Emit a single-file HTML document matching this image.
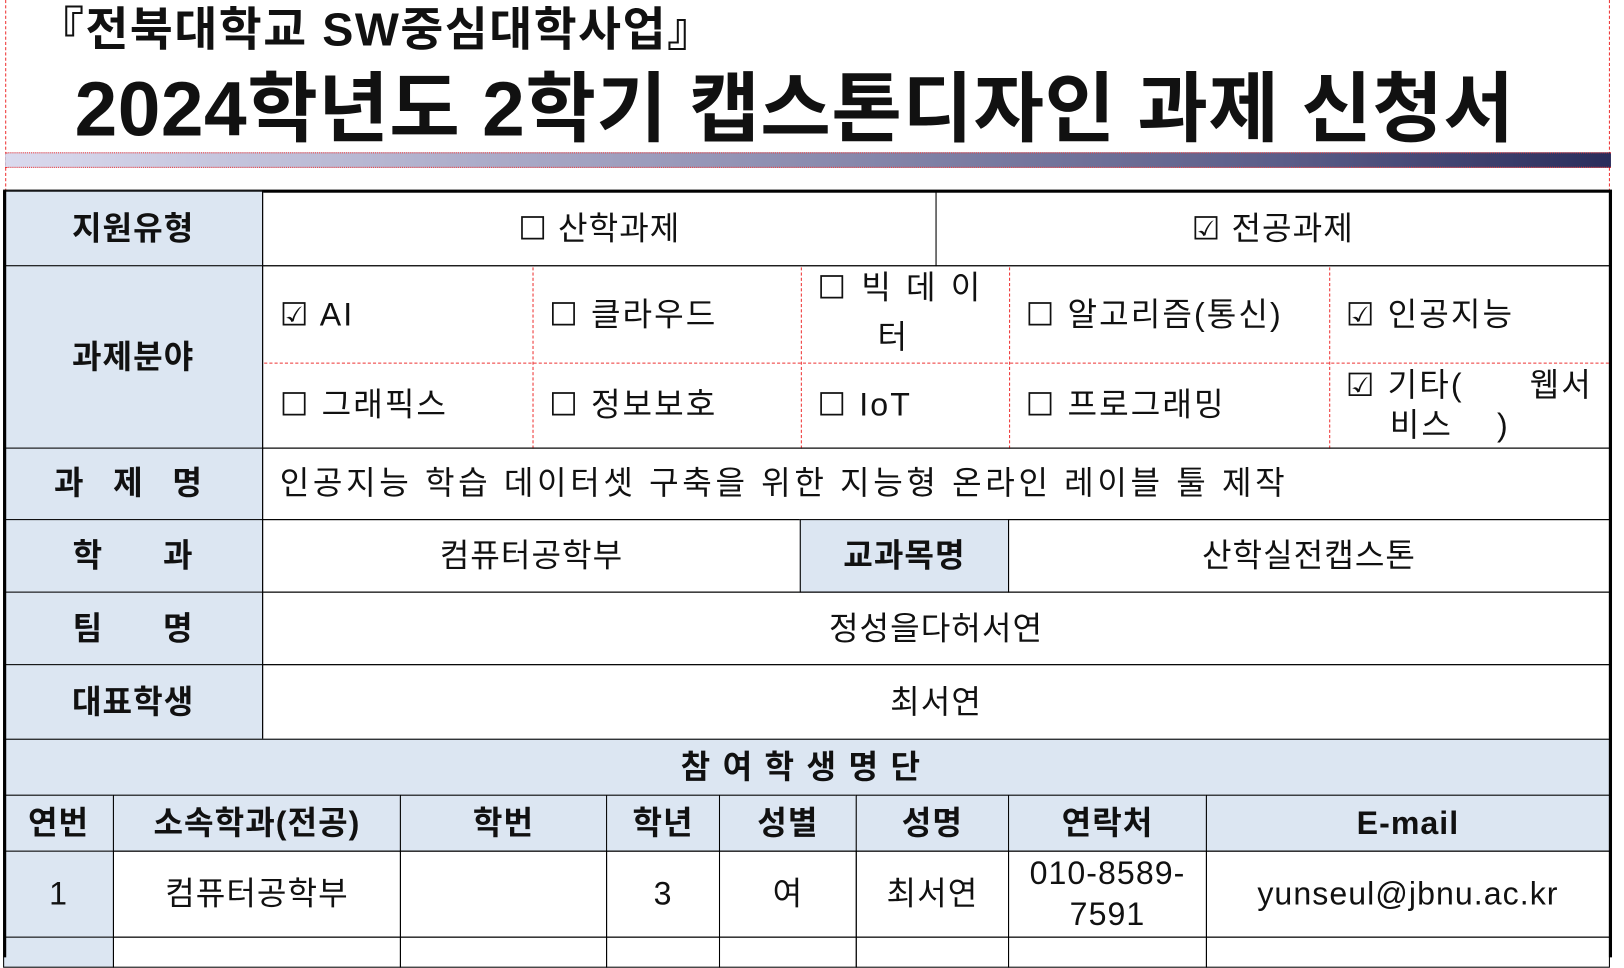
<!DOCTYPE html>
<html><head><meta charset="utf-8">
<style>
html,body{margin:0;padding:0;background:#fff;width:1624px;height:946px;overflow:hidden}
#root{position:absolute;left:0;top:0;width:1557px;height:913px;transform:scale(1.036,1.0361);transform-origin:0 0;font-family:"Liberation Sans","Noto Sans CJK KR",sans-serif;color:#111}
.a{position:absolute;box-sizing:border-box}
.c{position:absolute;box-sizing:border-box;border:1.5px solid #000;display:flex;align-items:center;justify-content:center;font-size:31px;line-height:1.2;margin:-1px 0 0 -1px;letter-spacing:1px}
.lb{background:#dce6f2;font-weight:bold}
.f{position:absolute;box-sizing:border-box;display:flex;align-items:center;font-size:31px;padding-left:16px;line-height:1.3;letter-spacing:2px}
.rv{position:absolute;border-left:1.5px dashed #e33;width:0}
</style></head><body>
<div id="root">
<div class="a" style="left:5px;top:0;height:185px;border-left:1.5px dashed #e33"></div>
<div class="a" style="left:1553px;top:0;height:185px;border-left:1.5px dashed #e33"></div>
<div class="a" style="left:36px;top:-8px;font-size:45px;font-weight:bold;white-space:nowrap;letter-spacing:1.5px">『전북대학교 SW중심대학사업』</div>
<div class="a" style="left:72px;top:69px;font-size:74px;font-weight:bold;white-space:nowrap;letter-spacing:0.5px;line-height:1">2024학년도 2학기 캡스톤디자인 과제 신청서</div>
<div class="a" style="left:5px;top:147px;width:1550px;height:15px;border-top:1.5px dotted #e33;border-bottom:1.5px dotted #e33;background:linear-gradient(90deg,#dadaee,#9c9cbc 40%,#5a5c88 80%,#2a2d5c)"></div>

<div class="a" style="left:3px;top:183px;width:1553px;height:3px;background:#000"></div>

<div class="c lb" style="left:4px;top:185px;width:251px;height:73px">지원유형</div>
<div class="c" style="left:254px;top:185px;width:651px;height:73px">☐ 산학과제</div>
<div class="c" style="left:904px;top:185px;width:651px;height:73px">☑ 전공과제</div>

<div class="c lb" style="left:4px;top:257px;width:251px;height:177px">과제분야</div>
<div class="c" style="left:254px;top:257px;width:1301px;height:177px"></div>
<div class="a" style="left:255px;top:350px;width:1298px;border-top:1.5px dashed #e33"></div>
<div class="rv" style="left:514px;top:258px;height:175px"></div>
<div class="rv" style="left:773px;top:258px;height:175px"></div>
<div class="rv" style="left:974px;top:258px;height:175px"></div>
<div class="rv" style="left:1283px;top:258px;height:175px"></div>
<div class="f" style="left:254px;top:258px;width:260px;height:92px">☑ AI</div>
<div class="f" style="left:514px;top:258px;width:259px;height:92px">☐ 클라우드</div>
<div class="f" style="left:773px;top:254px;width:201px;height:96px;align-items:flex-start;padding-top:0;line-height:1.55;letter-spacing:3px">☐ 빅 데 이<br>&nbsp;&nbsp;&nbsp;&nbsp;&nbsp;터</div>
<div class="f" style="left:974px;top:258px;width:309px;height:92px">☐ 알고리즘(통신)</div>
<div class="f" style="left:1283px;top:258px;width:270px;height:92px">☑ 인공지능</div>
<div class="f" style="left:254px;top:350px;width:260px;height:83px">☐ 그래픽스</div>
<div class="f" style="left:514px;top:350px;width:259px;height:83px">☐ 정보보호</div>
<div class="f" style="left:773px;top:350px;width:201px;height:83px">☐ IoT</div>
<div class="f" style="left:974px;top:350px;width:309px;height:83px">☐ 프로그래밍</div>
<div class="f" style="left:1283px;top:350px;width:270px;height:83px;line-height:1.25;white-space:pre">☑ 기타(      웹서
    비스    )</div>

<div class="c lb" style="left:4px;top:433px;width:251px;height:70px;letter-spacing:10px">과 제 명</div>
<div class="c" style="left:254px;top:433px;width:1301px;height:70px;justify-content:flex-start;padding-left:16px;letter-spacing:3.5px">인공지능 학습 데이터셋 구축을 위한 지능형 온라인 레이블 툴 제작</div>

<div class="c lb" style="left:4px;top:502px;width:251px;height:71px;white-space:pre">학      과</div>
<div class="c" style="left:254px;top:502px;width:520px;height:71px">컴퓨터공학부</div>
<div class="c lb" style="left:773px;top:502px;width:202px;height:71px">교과목명</div>
<div class="c" style="left:974px;top:502px;width:581px;height:71px">산학실전캡스톤</div>

<div class="c lb" style="left:4px;top:572px;width:251px;height:71px;white-space:pre">팀      명</div>
<div class="c" style="left:254px;top:572px;width:1301px;height:71px">정성을다허서연</div>

<div class="c lb" style="left:4px;top:642px;width:251px;height:73px">대표학생</div>
<div class="c" style="left:254px;top:642px;width:1301px;height:73px">최서연</div>

<div class="c lb" style="left:4px;top:714px;width:1551px;height:55px;letter-spacing:12px">참여학생명단</div>

<div class="c lb" style="left:4px;top:768px;width:107px;height:55px">연번</div>
<div class="c lb" style="left:110px;top:768px;width:278px;height:55px">소속학과(전공)</div>
<div class="c lb" style="left:387px;top:768px;width:200px;height:55px">학번</div>
<div class="c lb" style="left:586px;top:768px;width:110px;height:55px">학년</div>
<div class="c lb" style="left:695px;top:768px;width:133px;height:55px">성별</div>
<div class="c lb" style="left:827px;top:768px;width:148px;height:55px">성명</div>
<div class="c lb" style="left:974px;top:768px;width:192px;height:55px">연락처</div>
<div class="c lb" style="left:1165px;top:768px;width:390px;height:55px">E-mail</div>

<div class="c lb" style="left:4px;top:822px;width:107px;height:84px;font-weight:normal">1</div>
<div class="c" style="left:110px;top:822px;width:278px;height:84px">컴퓨터공학부</div>
<div class="c" style="left:387px;top:822px;width:200px;height:84px"></div>
<div class="c" style="left:586px;top:822px;width:110px;height:84px">3</div>
<div class="c" style="left:695px;top:822px;width:133px;height:84px">여</div>
<div class="c" style="left:827px;top:822px;width:148px;height:84px">최서연</div>
<div class="c" style="left:974px;top:822px;width:192px;height:84px;text-align:center;line-height:1.3">010-8589-<br>7591</div>
<div class="c" style="left:1165px;top:822px;width:390px;height:84px">yunseul@jbnu.ac.kr</div>

<div class="c lb" style="left:4px;top:905px;width:107px;height:30px"></div>
<div class="c" style="left:110px;top:905px;width:278px;height:30px"></div>
<div class="c" style="left:387px;top:905px;width:200px;height:30px"></div>
<div class="c" style="left:586px;top:905px;width:110px;height:30px"></div>
<div class="c" style="left:695px;top:905px;width:133px;height:30px"></div>
<div class="c" style="left:827px;top:905px;width:148px;height:30px"></div>
<div class="c" style="left:974px;top:905px;width:192px;height:30px"></div>
<div class="c" style="left:1165px;top:905px;width:390px;height:30px"></div>
<div class="a" style="left:3px;top:184px;width:3px;height:740px;background:#000"></div>
<div class="a" style="left:1553px;top:184px;width:3px;height:740px;background:#000"></div>
</div>
</body></html>
